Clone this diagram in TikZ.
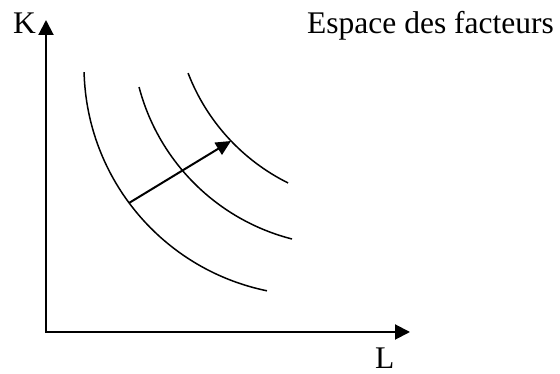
\documentclass[tikz,border=0pt]{standalone}
\usepackage{fontspec}
\setmainfont{Liberation Serif}
\usetikzlibrary{arrows.meta,calc}
\begin{document}
\begin{tikzpicture}[x=1pt,y=1pt,
  lbl/.style={inner sep=0pt,anchor=base west,font=\fontsize{31.5}{36}\selectfont},
  axis/.style={line width=2pt,-{Triangle[length=15pt,width=15pt]}},
  curve/.style={line width=1.5pt},
  shiftarrow/.style={line width=2pt,-{Triangle[length=15pt,width=14pt]}}]
\useasboundingbox (0,0) rectangle (560,374);
% axes
\coordinate (O) at (46,42);
\coordinate (Ktip) at (46,354);
\coordinate (Ltip) at (410,42);
\draw[axis] (O) -- (Ktip);
\draw[axis] ([xshift=-1pt]O) -- (Ltip);
% labels
\node[lbl] (K) at (13,340.7) {K};
\node[lbl] (L) at (375,5.5) {L};
\node[lbl] (title) at (307,340.7) {Espace des facteurs};
% indifference curves (circular arcs)
\coordinate (c1) at (313,307.5);
\coordinate (c2) at (344.5,340.8);
\coordinate (c3) at (379,374.2);
\draw[curve] ($(c1)+(181.4:229)$) arc[start angle=181.4,end angle=258.4,radius=229];
\draw[curve] ($(c2)+(194.7:212.4)$) arc[start angle=194.7,end angle=255.7,radius=212.4];
\draw[curve] ($(c3)+(201:204.5)$) arc[start angle=201,end angle=243.6,radius=204.5];
% shift arrow
\coordinate (P1) at (129,171);
\coordinate (P3) at (231,233);
\draw[shiftarrow] (P1) -- (P3);
\end{tikzpicture}
\end{document}
